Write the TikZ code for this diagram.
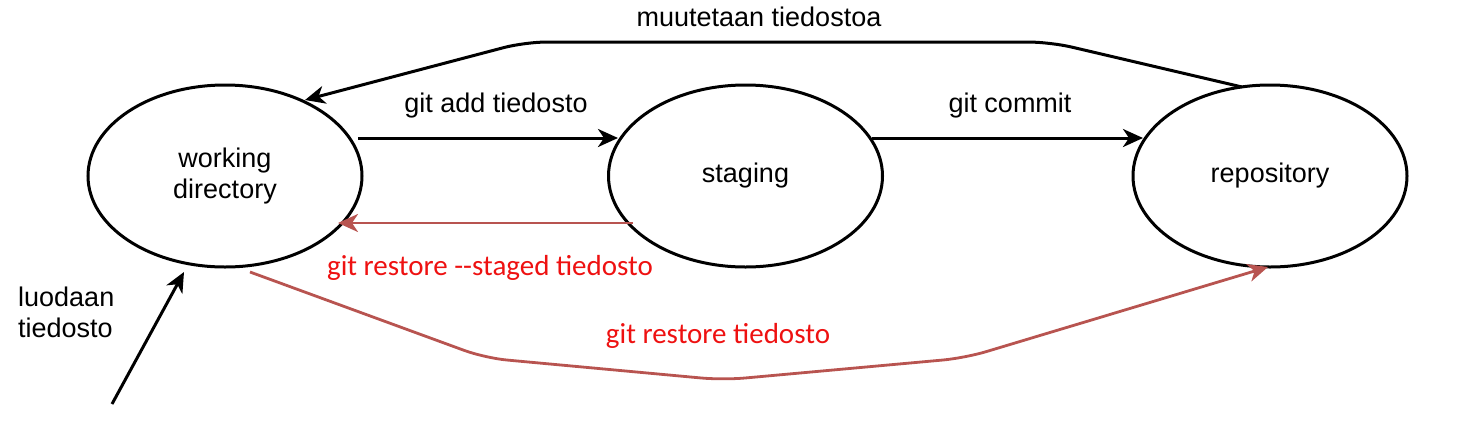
\documentclass[tikz,border=0pt]{standalone}
\usepackage{fontspec}
\setmainfont{Liberation Sans}
\newfontfamily\calfont{Carlito}
\usetikzlibrary{arrows.meta,shapes.geometric}
\definecolor{redline}{HTML}{B85450}
\definecolor{redtext}{HTML}{EE1111}
\begin{document}
\begin{tikzpicture}[x=1pt,y=-1pt,
  state/.style={draw=black,line width=3pt,ellipse,minimum width=274pt,minimum height=182pt,inner sep=0pt,align=center,font=\fontsize{27}{31}\selectfont},
  lbl/.style={font=\fontsize{27}{31}\selectfont,inner sep=0pt,align=center},
  rlbl/.style={font=\calfont\fontsize{29}{33}\selectfont,text=redtext,inner sep=0pt},
  arr/.style={draw=black,line width=3pt,-{Stealth[length=20pt,width=18pt,inset=6pt]}},
  rarr/.style={draw=redline,line width=2.8pt,-{Stealth[length=20pt,width=18pt,inset=6pt]}}]
\useasboundingbox (0,0) rectangle (1460,445);
\node[state] (wd) at (225,176) {working\\directory};
\node[state] (st) at (745.5,176) {staging};
\node[state] (rep) at (1270,176) {repository};
% labels
\node[lbl] (lmuut) at (759,17) {muutetaan tiedostoa};
\node[lbl] (ladd) at (496,106) {git add tiedosto};
\node[lbl] (lcom) at (1010,106) {git commit};
\node[lbl,align=left,anchor=west] (lluo) at (18,312) {luodaan\\tiedosto};
\node[rlbl] (lstaged) at (490,268) {git restore --staged tiedosto};
\node[rlbl] (lrest) at (718,336) {git restore tiedosto};
% connector points
\coordinate (addS) at (358,138);
\coordinate (addE) at (618,138);
\coordinate (comS) at (872,138);
\coordinate (comE) at (1143,138);
\coordinate (topS) at (1242,87);
\coordinate (topE) at (305,100);
\coordinate (stgS) at (633,223);
\coordinate (stgE) at (338,223);
\coordinate (resS) at (250,272);
\coordinate (resE) at (1268,267);
\coordinate (luoS) at (112,404);
\coordinate (luoE) at (184,272);
% connectors
\draw[arr] (addS) -- (addE);
\draw[arr] (comS) -- (comE);
\draw[arr,rounded corners=22pt] (topS) -- (1050,42) -- (525,42) -- (topE);
\draw[rarr] (stgS) -- (stgE);
\draw[rarr,rounded corners=22pt] (resS) -- (485,358) -- (723,380) -- (965,358) -- (resE);
\draw[arr] (luoS) -- (luoE);
\end{tikzpicture}
\end{document}
